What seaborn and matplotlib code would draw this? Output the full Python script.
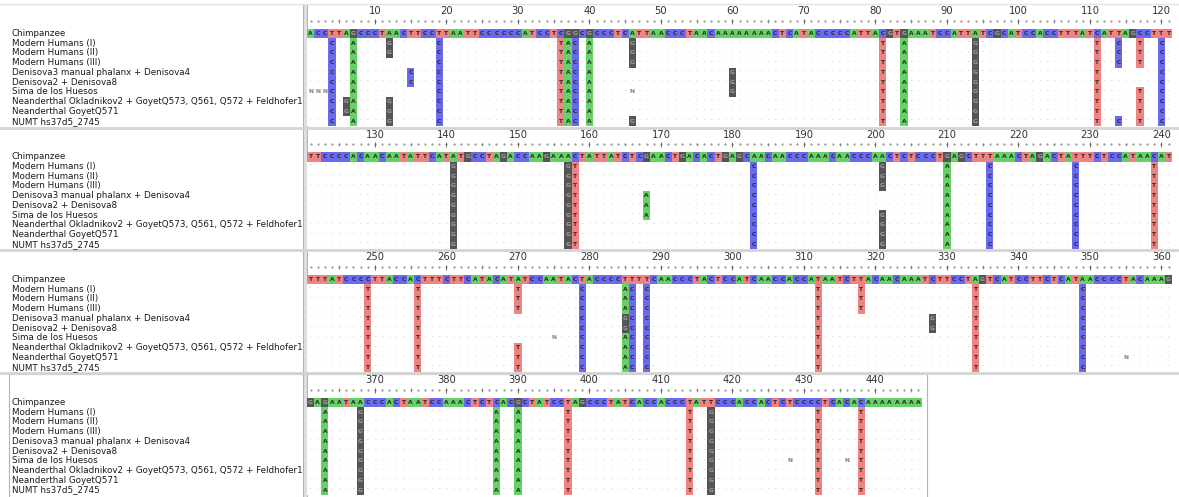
import numpy as np
import pandas as pd
import matplotlib
matplotlib.use('Agg')
import matplotlib.pyplot as plt
from matplotlib.colors import ListedColormap
from matplotlib.patches import Rectangle
import seaborn as sns

# --- data -------------------------------------------------------------------
SPECIES = [
    "Chimpanzee",
    "Modern Humans (I)",
    "Modern Humans (II)",
    "Modern Humans (III)",
    "Denisova3 manual phalanx + Denisova4",
    "Denisova2 + Denisova8",
    "Sima de los Huesos",
    "Neanderthal Okladnikov2 + GoyetQ573, Q561, Q572 + Feldhofer1",
    "Neanderthal GoyetQ571",
    "NUMT hs37d5_2745",
]

# chimpanzee reference, one string per block
CHIMP_1 = ("ACCTTAGCCC" "TAACTTCCTT" "AATTCCCCCC" "ATCCTCGGCG" "CCCTCATTAA" "CCCTAACAAA"
           "AAAAACTCAT" "ACCCCCATTA" "CGTGAAATCC" "ATTATCGCAT" "CCACCTTTAT" "CATTAGCCTT")
CHIMP_2 = ("TTCCCCACAA" "CAATATTCAT" "ATGCCTAGAC" "CAAGAAACTA" "TTATCTCGAA" "CTGACACTGA"
           "GCAACAACCC" "AAACAACCCA" "ACTCTCCCTG" "AGCTTTAAAC" "TAGACTATTT" "CTCCATAACA")
CHIMP_3 = ("TTTATCCCCT" "TACCACTTTC" "TTCATACATA" "TCCAATACTA" "CCCCTTTTCA" "ACCCTACTCC"
           "ATCAACCACC" "ATAATCTTAC" "AACAAATCTT" "CCTAGTCATC" "CTTCTCATAA" "CCCCTACAAA")
CHIMP_4 = ("GAGAATAACC" "CACTAATCCA" "AACTCTCACG" "CTATCCTAGC" "CCTATCACCA" "CCCTATTCCC"
           "ACCACTCTCC" "CCTCACACAA" "AAAAAA")

BLOCK_START = [1, 121, 241, 361]
BLOCK_LEN = [121, 121, 121, 86]

ALL = [1, 2, 3, 4, 5, 6, 7, 8, 9]
# differences from chimpanzee: position, base, rows (1 = Modern Humans (I) ...)
VAR_POS = [1, 2, 3, 4, 6, 7, 12, 15, 19, 36, 37, 38, 40, 46, 46, 60,
           81, 84, 94, 111, 114, 117, 120,
           141, 157, 158, 168, 183, 201, 210, 216, 228, 239,
           249, 256, 270, 279, 275, 285, 285, 286, 288, 312, 318, 328, 334, 349, 355,
           363, 368, 387, 390, 397, 414, 417, 428, 432, 436, 438]
VAR_BASE = ["N", "N", "N", "C", "G", "A", "G", "C", "C", "T", "A", "C", "A", "G", "N", "G",
            "T", "A", "G", "T", "C", "T", "C",
            "G", "G", "T", "A", "C", "G", "A", "C", "C", "T",
            "T", "T", "T", "C", "N", "A", "G", "C", "C", "T", "T", "G", "T", "C", "N",
            "A", "G", "A", "A", "T", "T", "G", "N", "T", "N", "T"]
VAR_ROWS = [[6], [6], [6], ALL, [7, 8], ALL, [1, 2, 7, 8, 9], [4, 5], ALL, ALL, ALL, ALL, ALL,
            [1, 2, 3, 9], [6], [4, 5, 6],
            ALL, ALL, ALL, ALL, [1, 2, 3, 9], [1, 2, 3, 6, 7, 8, 9], ALL,
            ALL, ALL, ALL, [4, 5, 6], ALL, [1, 2, 3, 6, 7, 8, 9], ALL, ALL, ALL, ALL,
            ALL, ALL, [1, 2, 3, 7, 8, 9], ALL, [6], [1, 2, 3, 6, 7, 8, 9], [4, 5], ALL, ALL,
            ALL, [1, 2, 3], [4, 5], ALL, ALL, [8],
            ALL, ALL, ALL, ALL, ALL, ALL, ALL, [6], ALL, [6], ALL]

BASE_CODE = {".": 0, "N": 0, "A": 1, "C": 2, "G": 3, "T": 4}
BASE_COLORS = ["#ffffff", "#64d264", "#6a6af0", "#555555", "#f08282"]

# --- build letter grid ------------------------------------------------------
chimp = CHIMP_1 + CHIMP_2 + CHIMP_3 + CHIMP_4
n_total = len(chimp)
grid = np.full((len(SPECIES), n_total), ".", dtype=object)
grid[0, :] = list(chimp)
for pos, base, rows in zip(VAR_POS, VAR_BASE, VAR_ROWS):
    for r in rows:
        grid[r, pos - 1] = base

# --- figure -----------------------------------------------------------------
W, H = 1179, 497
fig = plt.figure(figsize=(W / 100, H / 100), dpi=100)
fig.patch.set_facecolor("white")

X0 = 307.0      # left edge of alignment columns (px)
CW = 7.15       # column width (px)
RH = 9.75       # row height (px)
TOPS = [28.5, 151.8, 274.5, 397.5]

# overlay in pixel coordinates for frames and separators
over = fig.add_axes([0, 0, 1, 1])
over.set_xlim(0, W)
over.set_ylim(H, 0)
over.axis("off")
for yb in [127.5, 250.0, 372.5]:
    over.axhline(yb, color="#d4d4d4", lw=2.0)
over.add_patch(Rectangle((302.5, 4), 4, 370, facecolor="#dedede", edgecolor="#a8a8a8", lw=0.6))
over.add_patch(Rectangle((8.5, 374), 918, 124, facecolor="none", edgecolor="#b4b4b4", lw=0.8))
over.add_patch(Rectangle((302.5, 374), 4, 124, facecolor="#dedede", edgecolor="#a8a8a8", lw=0.6))
over.axhline(4, xmin=0, xmax=1, color="#e4e4e4", lw=1.0)

cmap = ListedColormap(BASE_COLORS)

for b, (start, n) in enumerate(zip(BLOCK_START, BLOCK_LEN)):
    top = TOPS[b]
    cols = list(range(start, start + n))
    letters = grid[:, start - 1:start - 1 + n]
    codes = np.vectorize(BASE_CODE.get)(letters).astype(float)
    df = pd.DataFrame(codes, index=SPECIES, columns=cols)

    ax = fig.add_axes([X0 / W, 1 - (top + len(SPECIES) * RH) / H,
                       n * CW / W, len(SPECIES) * RH / H])
    sns.heatmap(df, cmap=cmap, vmin=-0.5, vmax=4.5, annot=letters, fmt="",
                cbar=False, xticklabels=False, yticklabels=False, ax=ax,
                annot_kws=dict(fontsize=4.3, fontweight="bold", color="#2a2a2a"))
    for t in ax.texts:
        s = t.get_text()
        if s == ".":
            t.set_color("#8c8c8c")
            t.set_fontsize(4.0)
            t.set_fontweight("normal")
            t.set_y(t.get_position()[1] - 0.25)
        elif s == "G":
            t.set_color("#a0a0a0")
        elif s == "N":
            t.set_color("#808080")

    # ruler
    xs = np.arange(n) + 0.5
    ax.scatter(xs, np.full(n, -0.75), s=0.25, color="#808080", clip_on=False)
    for i, p in enumerate(cols):
        if p % 10 == 0:
            ax.vlines(xs[i], -1.0, -0.5, color="#555555", lw=0.6, clip_on=False)
            ax.text(xs[i], -1.75, str(p), ha="center", va="center", fontsize=7.2,
                    color="#333333", clip_on=False)
        elif p % 5 == 0:
            ax.vlines(xs[i], -0.95, -0.6, color="#777777", lw=0.5, clip_on=False)

    # species names
    for r, name in enumerate(SPECIES):
        fig.text(11.5 / W, 1 - (top + (r + 0.5) * RH) / H, name, ha="left", va="center",
                 fontsize=6.3, color="#1a1a1a")

fig.savefig("out.png", dpi=100, facecolor="white")
